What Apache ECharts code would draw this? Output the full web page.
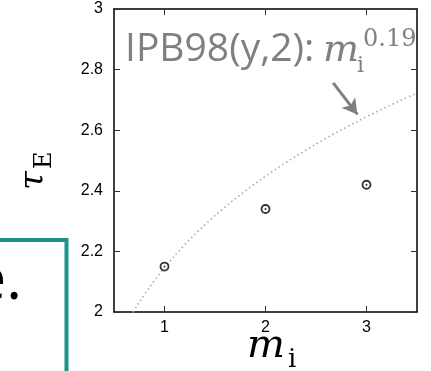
<!DOCTYPE html>
<html>
<head>
<meta charset="utf-8">
<script src="https://cdn.jsdelivr.net/npm/echarts@6/dist/echarts.min.js"></script>
<style>
  html, body { margin: 0; padding: 0; background: #fff; }
  #chart { width: 431px; height: 371px; }
</style>
</head>
<body>
<div id="chart"></div>
<script>
// Measured confinement time vs. ion mass number
const massNumbers = [1, 2, 3];
const tauValues = [2.15, 2.34, 2.42];

// IPB98(y,2) scaling: tau ~ C * m_i^0.19
const scalingExponent = 0.19;
const scalingCoeff = 2.146;
const curveX = [0.5, 0.6, 0.7, 0.8, 0.9, 1.0, 1.2, 1.4, 1.6, 1.8, 2.0, 2.2, 2.4, 2.6, 2.8, 3.0, 3.2, 3.4, 3.5];

const xTicks = [1, 2, 3];
const yTickLabels = ['2', '2.2', '2.4', '2.6', '2.8', '3'];

const scalingCurve = curveX.map(x => [x, scalingCoeff * Math.pow(x, scalingExponent)]);
const points = massNumbers.map((m, i) => [m, tauValues[i]]);

const chart = echarts.init(document.getElementById('chart'), null, { renderer: 'canvas' });

const gray = '#808080';
const axisLine = () => ({ show: true, lineStyle: { color: '#000', width: 1.5 } });
const axisTick = (custom) => {
  const t = { show: true, inside: true, length: 6, lineStyle: { color: '#333', width: 1 } };
  if (custom) t.customValues = custom;
  return t;
};

chart.setOption({
  animation: false,
  grid: { left: 114, right: 14, top: 9, bottom: 59 },
  xAxis: [
    {
      type: 'value', min: 0.5, max: 3.5, position: 'bottom',
      axisLine: axisLine(), axisTick: axisTick(xTicks),
      axisLabel: { margin: 8, customValues: xTicks, formatter: v => String(v), fontSize: 16, color: '#000' },
      splitLine: { show: false }
    },
    {
      type: 'value', min: 0.5, max: 3.5, position: 'top',
      axisLine: axisLine(), axisTick: axisTick(xTicks),
      axisLabel: { show: false }, splitLine: { show: false }
    }
  ],
  yAxis: [
    {
      type: 'value', min: 2, max: 3, interval: 0.2, position: 'left',
      axisLine: axisLine(), axisTick: axisTick(),
      axisLabel: { margin: 11, formatter: (v, i) => yTickLabels[i], fontSize: 16, color: '#000' },
      splitLine: { show: false }
    },
    {
      type: 'value', min: 2, max: 3, interval: 0.2, position: 'right',
      axisLine: axisLine(), axisTick: axisTick(),
      axisLabel: { show: false }, splitLine: { show: false }
    }
  ],
  series: [
    {
      name: 'IPB98(y,2)',
      type: 'line',
      data: scalingCurve,
      smooth: true,
      showSymbol: false,
      clip: true,
      lineStyle: { color: '#aaaaaa', width: 1.6, type: [1.5, 3] },
      silent: true,
      markLine: {
        silent: true,
        symbol: ['none', 'arrow'],
        symbolSize: [13, 15],
        label: { show: false },
        lineStyle: { color: gray, width: 3, type: 'solid' },
        data: [[{ coord: [2.67, 2.756] }, { coord: [2.91, 2.652] }]]
      }
    },
    {
      name: 'tau',
      type: 'scatter',
      data: points,
      symbol: 'circle',
      symbolSize: 8,
      itemStyle: { color: '#fff', borderColor: '#000', borderWidth: 1.8 },
      z: 3
    },
    {
      name: 'tau-center',
      type: 'scatter',
      data: points,
      symbol: 'circle',
      symbolSize: 2,
      itemStyle: { color: '#000' },
      z: 4
    }
  ],
  graphic: [
    // Slide callout box partly in view
    {
      type: 'rect', z: 10,
      shape: { x: -10, y: 240, width: 76.5, height: 200 },
      style: { fill: 'none', stroke: '#189585', lineWidth: 4 }
    },
    {
      type: 'text', z: 10, x: 22, y: 312,
      style: { text: 'e.', font: '60px "Open Sans", sans-serif', fill: '#000', align: 'right', verticalAlign: 'bottom' }
    },
    // Scaling-law annotation
    {
      type: 'text', z: 10, x: 125, y: 69,
      style: { text: 'IPB98(y,2):', font: '39px "Open Sans", sans-serif', fill: gray, align: 'left', verticalAlign: 'bottom' }
    },
    {
      type: 'text', z: 10, x: 323, y: 70,
      style: { text: 'm', font: 'italic 38px "DejaVu Serif", serif', fill: gray, align: 'left', verticalAlign: 'bottom' }
    },
    {
      type: 'text', z: 10, x: 357, y: 77,
      style: { text: 'i', font: '22px "DejaVu Serif", serif', fill: gray, align: 'left', verticalAlign: 'bottom' }
    },
    {
      type: 'text', z: 10, x: 363, y: 52,
      style: { text: String(scalingExponent), font: '24px "DejaVu Serif", serif', fill: gray, align: 'left', verticalAlign: 'bottom' }
    },
    // x-axis title: m_i
    {
      type: 'text', z: 10, x: 247, y: 367,
      style: { text: 'm', font: 'italic 40px "DejaVu Serif", serif', fill: '#000', align: 'left', verticalAlign: 'bottom' }
    },
    {
      type: 'text', z: 10, x: 288, y: 373,
      style: { text: 'i', font: '26px "DejaVu Serif", serif', fill: '#000', align: 'left', verticalAlign: 'bottom' }
    },
    // y-axis title: tau_E (rotated)
    {
      type: 'group', x: 43, y: 190, rotation: Math.PI / 2,
      children: [
        {
          type: 'text', x: 0, y: 8,
          style: { text: 'τ', font: 'italic 34px "DejaVu Serif", serif', fill: '#000', align: 'left', verticalAlign: 'bottom' }
        },
        {
          type: 'text', x: 21, y: 14,
          style: { text: 'E', font: '24px "DejaVu Serif", serif', fill: '#000', align: 'left', verticalAlign: 'bottom' }
        }
      ]
    }
  ]
});
</script>
</body>
</html>
